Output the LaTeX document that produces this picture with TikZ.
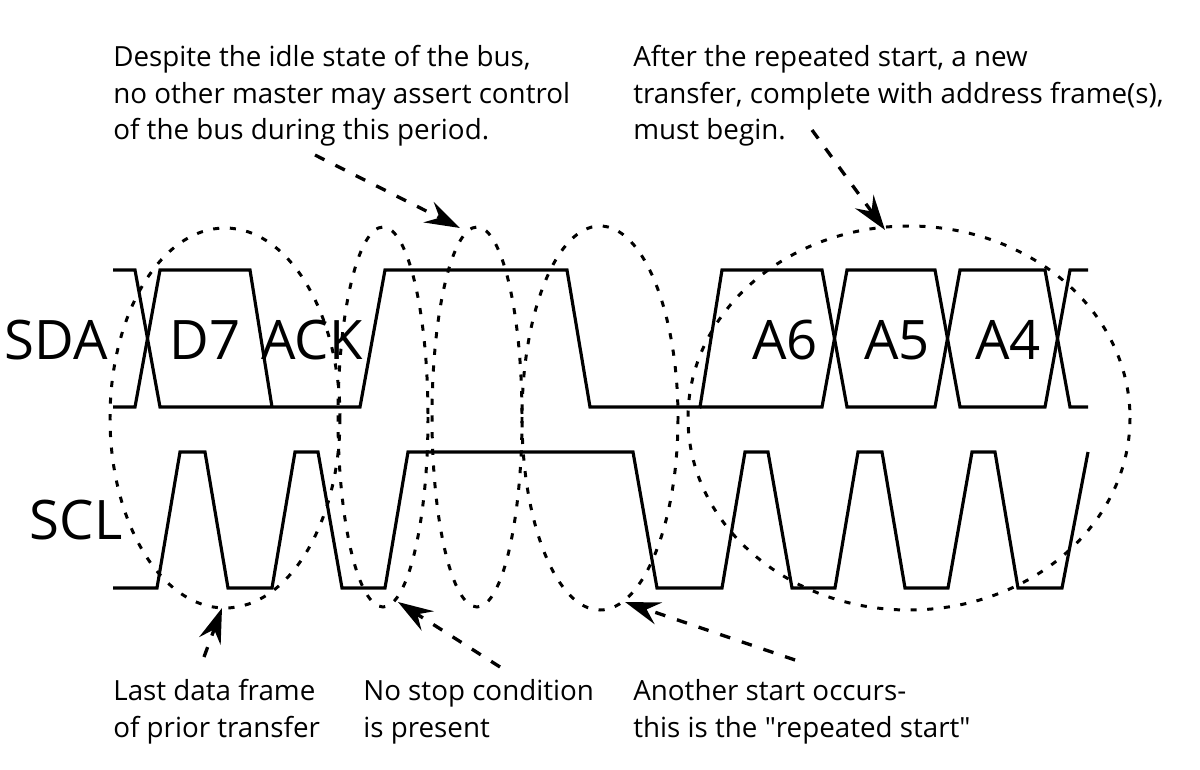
\documentclass[tikz,border=0pt]{standalone}
\usepackage{fontspec}
\setmainfont{Open Sans}
\usetikzlibrary{arrows.meta}
\begin{document}
\begin{tikzpicture}[x=0.02cm,y=-0.02cm,
  wave/.style={line width=1.8pt,line join=miter},
  ell/.style={line width=1.7pt,dash pattern=on 3.5pt off 6pt},
  arr/.style={line width=1.9pt,dash pattern=on 6pt off 7pt,-{Stealth[length=20pt,width=13pt,inset=7pt]}},
  note/.style={anchor=base west,inner sep=0pt,font=\fontsize{15.8}{19}\selectfont},
  big/.style={inner sep=0pt,font=\fontsize{31}{36}\selectfont}]
\useasboundingbox (0,0) rectangle (1200,770);
% SDA
\draw[wave] (113,270)--(135,270)--(160,407)--(360,407)--(385,270)--(567,270)--(590,407)--(700,407)--(722,270)--(822,270)--(847,407)--(935,407)--(960,270)--(1045,270)--(1070,407)--(1088,407);
\draw[wave] (113,407)--(135,407)--(160,270)--(250,270)--(272,407);
\draw[wave] (700,407)--(822,407)--(847,270)--(935,270)--(960,407)--(1045,407)--(1070,270)--(1088,270);
% SCL
\draw[wave] (113,588)--(157,588)--(180,452)--(205,452)--(228,588)--(272,588)--(295,452)--(318,452)--(342,588)--(385,588)--(408,452)--(633,452)--(657,588)--(722,588)--(745,452)--(768,452)--(792,588)--(835,588)--(858,452)--(882,452)--(905,588)--(948,588)--(972,452)--(995,452)--(1018,588)--(1062,588)--(1088,452);
% labels
\node[big] (sda) at (56,340) {SDA};
\node[big] (scl) at (76,520) {SCL};
\node[big] (d7) at (205,340) {D7};
\node[big] (ack) at (312,340) {ACK};
\node[big] (a6) at (785,340) {A6};
\node[big] (a5) at (897,340) {A5};
\node[big] (a4) at (1008,340) {A4};
% ellipses
\draw[ell] (225,418) ellipse [x radius=115,y radius=190];
\draw[ell] (383,417) ellipse [x radius=45,y radius=190];
\draw[ell] (477,417) ellipse [x radius=45,y radius=190];
\draw[ell] (600,418) ellipse [x radius=78,y radius=192];
\draw[ell] (909,418) ellipse [x radius=221,y radius=192];
% notes
\node[note] (t1) at (113,67) {Despite the idle state of the bus,};
\node[note] (t2) at (113,104) {no other master may assert control};
\node[note] (t3) at (113,140) {of the bus during this period.};
\node[note] (u1) at (633,67) {After the repeated start, a new};
\node[note] (u2) at (633,104) {transfer, complete with address frame(s),};
\node[note] (u3) at (633,140) {must begin.};
\node[note] (l1) at (113,700) {Last data frame};
\node[note] (l2) at (113,737) {of prior transfer};
\node[note] (n1) at (363,700) {No stop condition};
\node[note] (n2) at (363,737) {is present};
\node[note] (r1) at (633,700) {Another start occurs-};
\node[note] (r2) at (633,737) {this is the \textquotedbl repeated start\textquotedbl};
% arrows
\coordinate (a1s) at (315,155); \coordinate (a1e) at (460,228);
\coordinate (a2s) at (812,130); \coordinate (a2e) at (885,230);
\coordinate (a3s) at (204,657); \coordinate (a3e) at (222,608);
\coordinate (a4s) at (500,667); \coordinate (a4e) at (398,602);
\coordinate (a5s) at (795,660); \coordinate (a5e) at (625,602);
\draw[arr] (a1s)--(a1e);
\draw[arr] (a2s)--(a2e);
\draw[arr] (a3s)--(a3e);
\draw[arr] (a4s)--(a4e);
\draw[arr] (a5s)--(a5e);
\end{tikzpicture}
\end{document}
